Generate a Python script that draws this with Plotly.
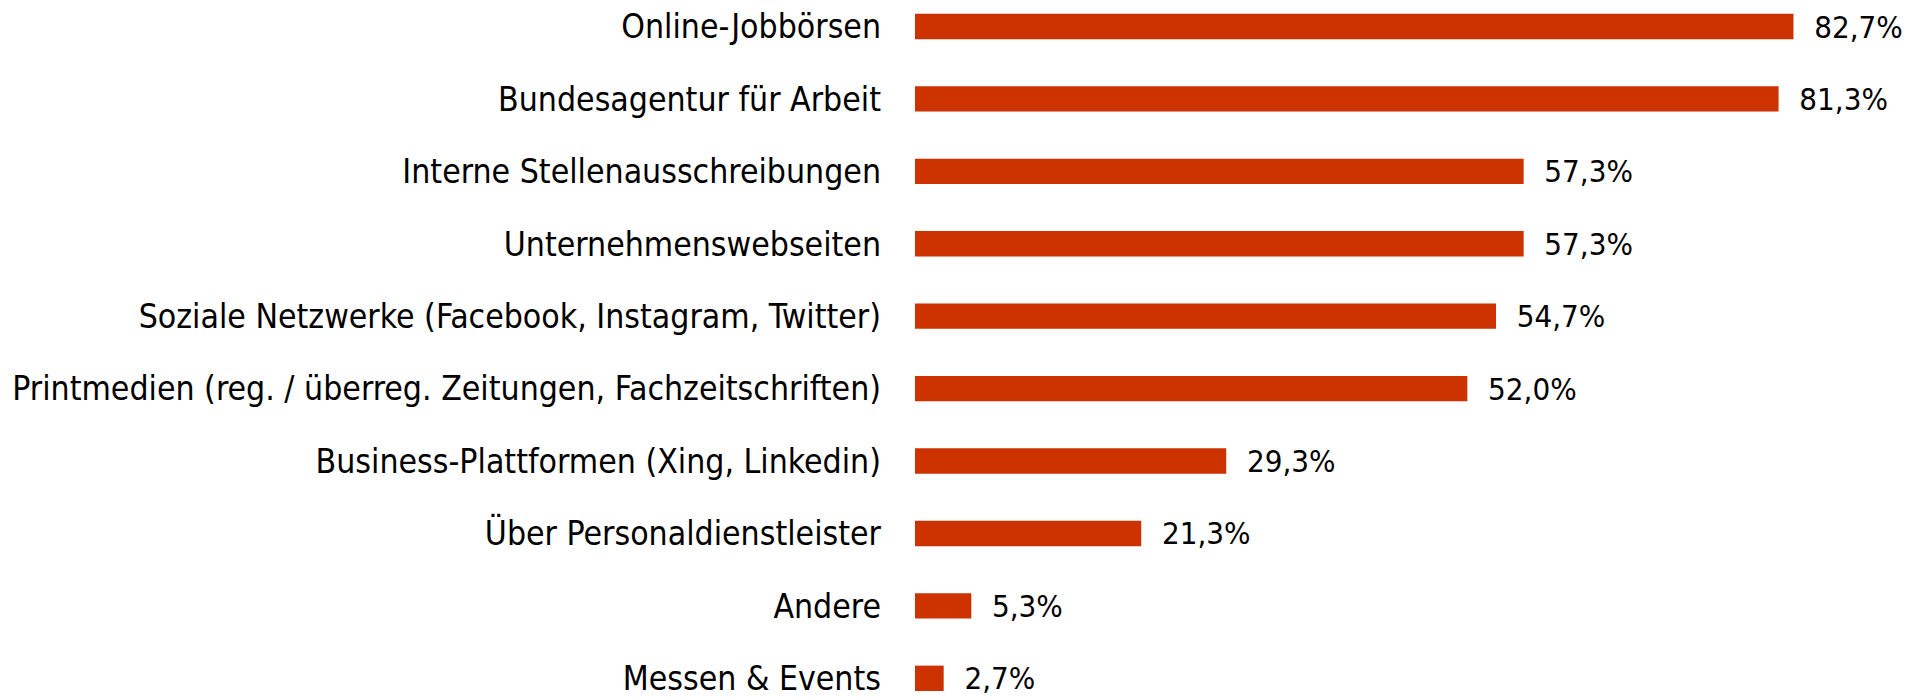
import plotly.graph_objects as go

categories = [
    "Online-Jobbörsen",
    "Bundesagentur für Arbeit",
    "Interne Stellenausschreibungen",
    "Unternehmenswebseiten",
    "Soziale Netzwerke (Facebook, Instagram, Twitter)",
    "Printmedien (reg. / überreg. Zeitungen, Fachzeitschriften)",
    "Business-Plattformen (Xing, Linkedin)",
    "Über Personaldienstleister",
    "Andere",
    "Messen & Events",
]
values = [82.7, 81.3, 57.3, 57.3, 54.7, 52.0, 29.3, 21.3, 5.3, 2.7]
value_labels = ["82,7%", "81,3%", "57,3%", "57,3%", "54,7%", "52,0%", "29,3%", "21,3%", "5,3%", "2,7%"]

FONT = "DejaVu Sans Condensed, sans-serif"
BAR_COLOR = "#cc3300"

fig = go.Figure(
    go.Bar(
        x=values,
        y=categories,
        orientation="h",
        marker=dict(color=BAR_COLOR, line=dict(width=0)),
        width=0.35,
        text=["  " + t for t in value_labels],
        textposition="outside",
        constraintext="none",
        textfont=dict(family=FONT, size=31, color="#000000"),
        cliponaxis=False,
        hoverinfo="skip",
    )
)

fig.update_layout(
    width=1906,
    height=698,
    margin=dict(l=915, r=35, t=0, b=0, autoexpand=False),
    paper_bgcolor="white",
    plot_bgcolor="white",
    showlegend=False,
    font=dict(family=FONT, size=33, color="#000000"),
    uniformtext=dict(mode=False),
)
fig.update_xaxes(
    range=[0, 90],
    visible=False,
    showgrid=False,
    zeroline=False,
    automargin=False,
)
fig.update_yaxes(
    type="category",
    categoryorder="array",
    categoryarray=categories,
    range=[9.272, -0.366],
    showgrid=False,
    zeroline=False,
    showline=False,
    ticks="",
    automargin=False,
    ticklabelstandoff=33,
    tickfont=dict(family=FONT, size=33.5, color="#000000"),
)

fig.write_html(
    "out.html",
    config={"displayModeBar": False, "staticPlot": True},
    post_script="document.body.style.margin='0';document.body.style.overflow='hidden';",
)
